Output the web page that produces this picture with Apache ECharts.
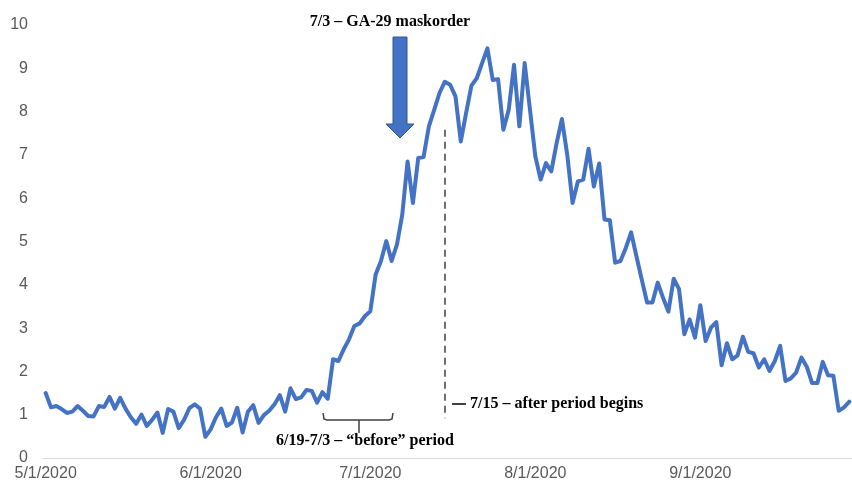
<!DOCTYPE html>
<html>
<head>
<meta charset="utf-8">
<script src="https://cdn.jsdelivr.net/npm/echarts@6/dist/echarts.min.js"></script>
<style>
  html, body { margin: 0; padding: 0; background: #fff; }
  #chart { width: 852px; height: 485px; }
</style>
</head>
<body>
<div id="chart"></div>
<script>
// daily dates, 5/1/2020 .. 9/29/2020
const dates = [];
for (let d = new Date(2020, 4, 1); d <= new Date(2020, 8, 29); d.setDate(d.getDate() + 1)) {
    dates.push((d.getMonth() + 1) + '/' + d.getDate() + '/' + d.getFullYear());
}

// daily values (5/1 onward)
const values = [
    1.50, 1.17, 1.20, 1.13, 1.04, 1.07, 1.20, 1.09, 0.97, 0.96,
    1.20, 1.18, 1.41, 1.14, 1.39, 1.14, 0.94, 0.79, 1.00, 0.74,
    0.88, 1.05, 0.58, 1.13, 1.07, 0.69, 0.88, 1.15, 1.24, 1.14,
    0.49, 0.66, 0.94, 1.14, 0.74, 0.82, 1.16, 0.59, 1.07, 1.22,
    0.81, 0.99, 1.09, 1.24, 1.45, 1.07, 1.61, 1.36, 1.40, 1.57,
    1.55, 1.28, 1.52, 1.37, 2.28, 2.24, 2.51, 2.74, 3.05, 3.11,
    3.28, 3.39, 4.24, 4.55, 5.01, 4.55, 4.93, 5.62, 6.85, 5.89,
    6.93, 6.95, 7.66, 8.04, 8.43, 8.69, 8.62, 8.35, 7.31, 7.97,
    8.60, 8.77, 9.12, 9.46, 8.73, 8.75, 7.58, 8.04, 9.08, 7.66,
    9.12, 8.04, 6.97, 6.43, 6.81, 6.62, 7.27, 7.83, 7.00, 5.89,
    6.39, 6.43, 7.14, 6.27, 6.80, 5.51, 5.49, 4.51, 4.55, 4.85,
    5.21, 4.66, 4.12, 3.59, 3.59, 4.05, 3.70, 3.38, 4.14, 3.90,
    2.86, 3.20, 2.78, 3.53, 2.70, 3.01, 3.14, 2.14, 2.65, 2.28,
    2.37, 2.80, 2.45, 2.42, 2.09, 2.28, 2.01, 2.24, 2.59, 1.78,
    1.84, 1.97, 2.32, 2.11, 1.73, 1.73, 2.22, 1.91, 1.90, 1.09,
    1.17, 1.30
];

const tickLabels = ['5/1/2020', '6/1/2020', '7/1/2020', '8/1/2020', '9/1/2020'];
const afterStart = '7/15/2020';

const myChart = echarts.init(document.getElementById('chart'));
const isTick = (idx, val) => tickLabels.indexOf(val) >= 0;
const noteFont = { fontFamily: '"Liberation Serif", serif', fontWeight: 'bold', fontSize: 16, fill: '#000' };

const option = {
    animation: false,
    grid: { left: 43, right: -1, top: 25, bottom: 27 },
    xAxis: {
        type: 'category',
        data: dates,
        boundaryGap: true,
        axisLine: { lineStyle: { color: '#d9d9d9', width: 1 } },
        axisTick: { interval: isTick, length: 5, lineStyle: { color: '#d9d9d9' } },
        axisLabel: {
            interval: isTick,
            color: '#595959',
            fontFamily: '"Liberation Sans", Arial, sans-serif',
            fontSize: 16,
            margin: 8
        },
        splitLine: { show: false }
    },
    yAxis: {
        type: 'value',
        min: 0,
        max: 10,
        interval: 1,
        axisLine: { show: false },
        axisTick: { show: false },
        splitLine: { show: false },
        axisLabel: {
            color: '#595959',
            fontFamily: '"Liberation Sans", Arial, sans-serif',
            fontSize: 16,
            margin: 15
        }
    },
    series: [{
        type: 'line',
        data: values,
        showSymbol: false,
        lineStyle: { color: '#4472C4', width: 4, join: 'round', cap: 'round' },
        markLine: {
            silent: true,
            symbol: 'none',
            label: { show: false },
            lineStyle: { color: '#404040', width: 1.5, type: [7, 5] },
            data: [[{ coord: [afterStart, 7.58] }, { coord: [afterStart, 0.92] }]]
        }
    }],
    graphic: [
        {
            type: 'text', x: 390, y: 22,
            style: Object.assign({ text: '7/3 – GA-29 maskorder', textAlign: 'center', textVerticalAlign: 'middle' }, noteFont)
        },
        {
            type: 'polygon',
            shape: { points: [[393, 37], [407, 37], [407, 124], [414, 124], [400, 138], [386, 124], [393, 124]] },
            style: { fill: '#4472C4', stroke: '#2F5597', lineWidth: 1 }
        },
        {
            type: 'line',
            shape: { x1: 452, y1: 404, x2: 466, y2: 404 },
            style: { stroke: '#000', lineWidth: 1.5 }
        },
        {
            type: 'text', x: 470, y: 404,
            style: Object.assign({ text: '7/15 – after period begins', textAlign: 'left', textVerticalAlign: 'middle' }, noteFont)
        },
        {
            type: 'polyline',
            shape: { points: [[323, 413], [324, 419], [327, 420], [389, 420], [392, 419], [393, 413]] },
            style: { stroke: '#404040', lineWidth: 1.5, fill: null }
        },
        {
            type: 'line',
            shape: { x1: 359, y1: 420, x2: 359, y2: 433 },
            style: { stroke: '#404040', lineWidth: 1.5 }
        },
        {
            type: 'text', x: 365, y: 441,
            style: Object.assign({ text: '6/19-7/3 – “before” period', textAlign: 'center', textVerticalAlign: 'middle' }, noteFont)
        }
    ]
};

myChart.setOption(option);
</script>
</body>
</html>
